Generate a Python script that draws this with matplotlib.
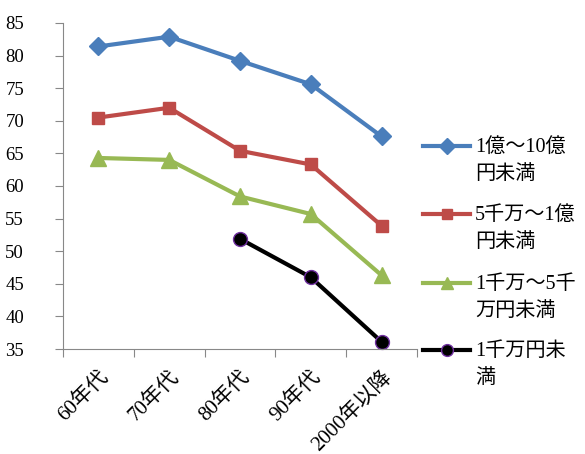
import matplotlib
matplotlib.use("Agg")
import matplotlib.pyplot as plt
from matplotlib.lines import Line2D

plt.rcParams['font.family'] = ['Liberation Serif', 'Noto Sans CJK JP']

decades = ['60年代', '70年代', '80年代', '90年代', '2000年以降']
series_names = ['1億～10億\n円未満', '5千万～1億\n円未満', '1千万～5千\n万円未満', '1千万円未\n満']
oku_1_10 = [81.4, 82.9, 79.2, 75.6, 67.6]
man5000_oku1 = [70.5, 72.0, 65.4, 63.3, 53.9]
man1000_5000 = [64.3, 64.0, 58.4, 55.7, 46.3]
under_man1000 = [None, None, 51.9, 46.0, 36.1]

styles = [
    dict(color='#4A7EBB', marker='D', ms=9, mec='#4A7EBB'),
    dict(color='#BE4B48', marker='s', ms=9, mec='#BE4B48'),
    dict(color='#98B954', marker='^', ms=11, mec='#98B954'),
    dict(color='black', marker='o', ms=10, mec='#7030A0', mew=1),
]

fig = plt.figure(figsize=(5.85, 4.54), dpi=100)
ax = fig.add_axes([63 / 585, 1 - 349 / 454, (417 - 63) / 585, (349 - 23) / 454])

all_values = [oku_1_10, man5000_oku1, man1000_5000, under_man1000]
for vals, st in zip(all_values, styles):
    xs = [i for i, v in enumerate(vals) if v is not None]
    ys = [v for v in vals if v is not None]
    ax.plot(xs, ys, lw=3, clip_on=False, **st)

ax.set_xlim(-0.5, len(decades) - 0.5)
ax.set_ylim(35, 85)
ax.set_yticks(range(35, 86, 5))
ax.set_xticks([i - 0.5 for i in range(len(decades) + 1)])
ax.set_xticklabels([])
ax.set_xticks(range(len(decades)), minor=True)
ax.set_xticklabels(decades, minor=True, rotation=45, ha='right', va='top',
                   rotation_mode='anchor', fontsize=15)

for side in ['top', 'right']:
    ax.spines[side].set_visible(False)
for side in ['left', 'bottom']:
    ax.spines[side].set_color('#888888')
ax.tick_params(axis='y', direction='out', length=6, color='#888888', labelsize=13.5, pad=22)
ax.tick_params(axis='x', which='major', direction='out', length=6, color='#888888')
ax.tick_params(axis='x', which='minor', length=0, pad=13)

# legend, drawn by hand so the handle sits on the first text line
legend_y = [146, 214, 283, 350]
for name, st, yp in zip(series_names, styles, legend_y):
    yf = 1 - yp / 454
    fig.add_artist(Line2D([423 / 585, 470 / 585], [yf, yf], lw=3, color=st['color'],
                          transform=fig.transFigure))
    fig.add_artist(Line2D([447 / 585], [yf], lw=0, transform=fig.transFigure,
                          marker=st['marker'], ms=st['ms'] * 0.85, color=st['color'],
                          mec=st['mec'], mew=st.get('mew', 1)))
    fig.text(475 / 585, 1 - (yp - 8) / 454, name, fontsize=14.5, va='top', ha='left',
             linespacing=1.6)

fig.savefig('out.png', dpi=100)
